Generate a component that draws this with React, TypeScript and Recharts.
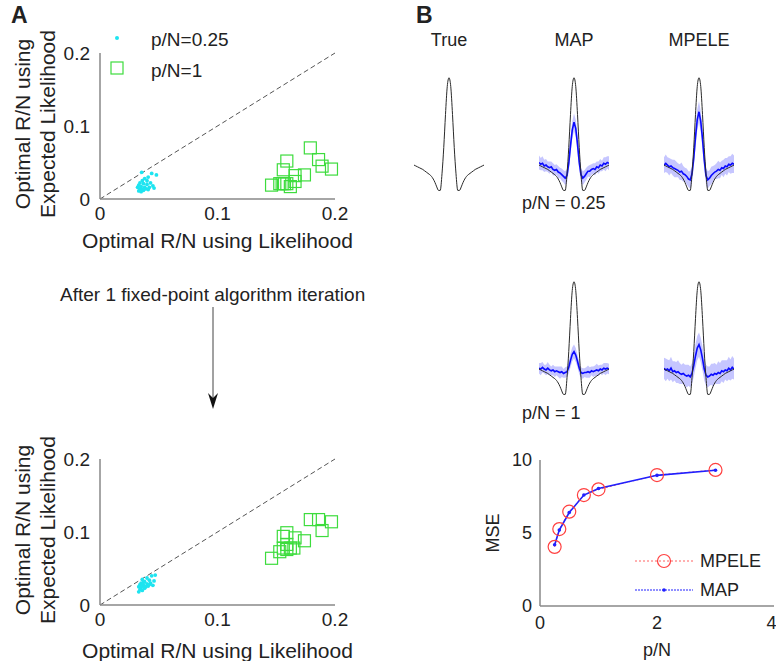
import React from 'react';
import {
  ScatterChart, Scatter, XAxis, YAxis, ReferenceLine, Legend,
  ComposedChart, Area, Line, LineChart,
} from 'recharts';

const FONT = '"Liberation Sans", Arial, Helvetica, sans-serif';

// panel A: optimal R/N, (likelihood, expected likelihood)
const cyanBefore = [
  [0.0355, 0.0366], [0.044, 0.035], [0.048, 0.033], [0.041, 0.030], [0.038, 0.028],
  [0.036, 0.025], [0.034, 0.022], [0.037, 0.021], [0.040, 0.020], [0.033, 0.019],
  [0.035, 0.017], [0.038, 0.016], [0.042, 0.016], [0.045, 0.018], [0.034, 0.014],
  [0.036, 0.013], [0.039, 0.014], [0.033, 0.011], [0.035, 0.010], [0.037, 0.012],
  [0.043, 0.022], [0.040, 0.025], [0.032, 0.016], [0.046, 0.015], [0.041, 0.013],
];
const greenBefore = [
  [0.146, 0.019], [0.153, 0.021], [0.155, 0.021], [0.157, 0.021], [0.159, 0.021],
  [0.162, 0.017], [0.156, 0.040], [0.159, 0.052], [0.166, 0.024], [0.166, 0.032],
  [0.174, 0.033], [0.179, 0.070], [0.186, 0.054], [0.189, 0.045], [0.197, 0.041],
];
const cyanAfter = [
  [0.036, 0.035], [0.040, 0.037], [0.044, 0.040], [0.047, 0.041], [0.042, 0.034],
  [0.038, 0.032], [0.035, 0.030], [0.034, 0.028], [0.037, 0.027], [0.040, 0.029],
  [0.043, 0.030], [0.033, 0.025], [0.035, 0.024], [0.038, 0.023], [0.041, 0.026],
  [0.045, 0.027], [0.034, 0.021], [0.036, 0.020], [0.033, 0.018], [0.039, 0.025],
  [0.046, 0.033], [0.042, 0.028], [0.037, 0.031], [0.035, 0.026],
];
const greenAfter = [
  [0.146, 0.064], [0.153, 0.073], [0.156, 0.078], [0.156, 0.094], [0.159, 0.099],
  [0.159, 0.076], [0.162, 0.078], [0.165, 0.078], [0.166, 0.092], [0.174, 0.088],
  [0.179, 0.117], [0.186, 0.117], [0.189, 0.102], [0.197, 0.114], [0.159, 0.083],
];
const rnTicks = [0, 0.1, 0.2];

// panel B: receptive field estimates
const tAxis = [
  -20, -19, -18, -17, -16, -15, -14, -13, -12, -11, -10, -9, -8, -7, -6, -5, -4, -3, -2, -1,
  0, 1, 2, 3, 4, 5, 6, 7, 8, 9, 10, 11, 12, 13, 14, 15, 16, 17, 18, 19, 20,
];
const trueWave = [
  0, -0.01, -0.02, -0.03, -0.04, -0.05, -0.065, -0.08, -0.095, -0.11, -0.13, -0.16, -0.2, -0.25, -0.29, -0.29, -0.1, 0.2, 0.58, 0.9,
  1.0, 0.9, 0.58, 0.2, -0.1, -0.29, -0.29, -0.25, -0.2, -0.16, -0.13, -0.11, -0.095, -0.08, -0.065, -0.05, -0.04, -0.03, -0.02, -0.01, 0,
];
const mapQuarter = [
  0.03, 0.01, 0.02, -0.01, 0.0, -0.02, -0.03, -0.02, -0.05, -0.06, -0.05, -0.08, -0.09, -0.11, -0.13, -0.15, -0.12, 0.02, 0.22, 0.4,
  0.49, 0.42, 0.24, 0.03, -0.11, -0.15, -0.13, -0.1, -0.07, -0.07, -0.05, -0.04, -0.05, -0.02, -0.03, 0.0, -0.01, 0.02, 0.01, 0.03, 0.02,
];
const mapQuarterSpread = [
  0.08, 0.07, 0.08, 0.07, 0.07, 0.06, 0.07, 0.06, 0.07, 0.06, 0.06, 0.07, 0.06, 0.07, 0.07, 0.08, 0.08, 0.09, 0.1, 0.1,
  0.1, 0.1, 0.1, 0.09, 0.08, 0.08, 0.07, 0.07, 0.06, 0.07, 0.06, 0.06, 0.07, 0.06, 0.07, 0.07, 0.06, 0.07, 0.08, 0.07, 0.08,
];
const mpeleQuarter = [
  0.0, 0.02, 0.0, -0.02, -0.01, -0.03, -0.04, -0.05, -0.06, -0.08, -0.07, -0.1, -0.11, -0.13, -0.16, -0.17, -0.1, 0.08, 0.32, 0.52,
  0.61, 0.5, 0.3, 0.06, -0.12, -0.17, -0.15, -0.12, -0.1, -0.08, -0.07, -0.05, -0.06, -0.03, -0.04, -0.01, -0.02, 0.01, 0.0, 0.02, 0.01,
];
const mpeleQuarterSpread = [
  0.09, 0.1, 0.09, 0.1, 0.08, 0.09, 0.1, 0.09, 0.08, 0.09, 0.1, 0.09, 0.08, 0.09, 0.09, 0.1, 0.1, 0.11, 0.12, 0.12,
  0.12, 0.12, 0.12, 0.11, 0.1, 0.1, 0.09, 0.1, 0.09, 0.08, 0.09, 0.1, 0.09, 0.08, 0.1, 0.09, 0.1, 0.09, 0.1, 0.11, 0.1,
];
const mapOne = [
  0.01, 0.0, 0.02, 0.0, -0.01, 0.01, -0.01, -0.02, -0.01, -0.03, -0.02, -0.03, -0.04, -0.03, -0.05, -0.04, -0.03, 0.02, 0.1, 0.17,
  0.2, 0.16, 0.09, 0.01, -0.04, -0.05, -0.04, -0.04, -0.03, -0.04, -0.02, -0.03, -0.02, -0.01, -0.02, 0.0, -0.01, 0.01, 0.0, 0.01, 0.0,
];
const mapOneSpread = [
  0.06, 0.07, 0.06, 0.05, 0.06, 0.07, 0.06, 0.05, 0.06, 0.06, 0.05, 0.06, 0.07, 0.06, 0.05, 0.06, 0.06, 0.07, 0.08, 0.08,
  0.08, 0.08, 0.07, 0.07, 0.06, 0.06, 0.05, 0.06, 0.07, 0.06, 0.05, 0.06, 0.06, 0.07, 0.06, 0.05, 0.06, 0.06, 0.07, 0.06, 0.06,
];
const mpeleOne = [
  0.01, -0.01, 0.0, -0.02, 0.01, -0.03, -0.02, -0.04, -0.03, -0.05, -0.06, -0.05, -0.07, -0.08, -0.07, -0.09, -0.05, 0.04, 0.15, 0.24,
  0.28, 0.22, 0.12, 0.0, -0.07, -0.09, -0.08, -0.06, -0.07, -0.05, -0.06, -0.04, -0.05, -0.02, -0.03, -0.01, -0.02, 0.01, -0.01, 0.02, 0.0,
];
const mpeleOneSpread = [
  0.12, 0.13, 0.11, 0.12, 0.13, 0.12, 0.11, 0.12, 0.13, 0.12, 0.11, 0.12, 0.12, 0.13, 0.12, 0.12, 0.12, 0.13, 0.14, 0.14,
  0.14, 0.14, 0.14, 0.13, 0.12, 0.12, 0.11, 0.12, 0.13, 0.12, 0.11, 0.13, 0.12, 0.12, 0.13, 0.11, 0.12, 0.13, 0.12, 0.13, 0.12,
];

// MSE vs p/N
const pN = [0.25, 0.33, 0.5, 0.75, 1, 2, 3];
const mseMpele = [4.05, 5.27, 6.46, 7.6, 7.99, 8.97, 9.32];
const mseMap = [4.2, 5.2, 6.4, 7.6, 8.05, 8.95, 9.3];

const toPts = (arr: number[][]) => arr.map(([x, y]) => ({ x, y }));

const waveTable = (est?: number[], spread?: number[]) =>
  tAxis.map((t, i) => ({
    t,
    truth: trueWave[i],
    est: est ? est[i] : undefined,
    band: est && spread ? [est[i] - spread[i], est[i] + spread[i]] : undefined,
  }));

const CyanDot = (p: any) => <circle cx={p.cx} cy={p.cy} r={1.9} fill="#1ee4f0" />;
const GreenSquare = (p: any) => (
  <rect x={p.cx - 6} y={p.cy - 6} width={12} height={12} fill="none" stroke="#3ddc3d" strokeWidth={1.2} />
);

const yLabel = () => {
  const cy = 124;
  return (
    <g fontFamily={FONT} fontSize={21} fill="#222">
      <text x={22} y={cy} transform={`rotate(-90, 22, ${cy})`} textAnchor="middle" dominantBaseline="central">Optimal R/N using</text>
      <text x={47} y={cy} transform={`rotate(-90, 47, ${cy})`} textAnchor="middle" dominantBaseline="central">Expected Likelihood</text>
    </g>
  );
};

const ScatterLegend = () => (
  <svg width={160} height={60} style={{ fontFamily: FONT }}>
    <circle cx={13} cy={13} r={2} fill="#1ee4f0" />
    <text x={47} y={14} fontSize={19} fill="#222" dominantBaseline="central">p/N=0.25</text>
    <rect x={7} y={37} width={12} height={12} fill="none" stroke="#3ddc3d" strokeWidth={1.2} />
    <text x={47} y={45} fontSize={19} fill="#222" dominantBaseline="central">p/N=1</text>
  </svg>
);

function RnScatter({ cyan, green, labelOffset, legend }: any) {
  return (
    <ScatterChart width={360} height={255} margin={{ top: 53, right: 25, bottom: 0, left: 0 }}>
      <XAxis type="number" dataKey="x" domain={[0, 0.2]} ticks={rnTicks} tickFormatter={(v) => String(v)}
        height={56} stroke="#888" strokeWidth={1.5} tickLine={false} tickSize={0} tickMargin={8}
        tick={{ fill: '#222', fontSize: 19, fontFamily: FONT }}
        label={{ value: 'Optimal R/N using Likelihood', position: 'insideBottom', offset: labelOffset, fill: '#222', fontSize: 21, fontFamily: FONT }} />
      <YAxis type="number" dataKey="y" domain={[0, 0.2]} ticks={rnTicks} tickFormatter={(v) => String(v)}
        width={100} stroke="#888" strokeWidth={1.5} tickLine={false} tickSize={0} tickMargin={10}
        tick={{ fill: '#222', fontSize: 19, fontFamily: FONT }} label={yLabel} />
      <ReferenceLine segment={[{ x: 0, y: 0 }, { x: 0.2, y: 0.2 }]} stroke="#555" strokeDasharray="5 3" strokeWidth={1} ifOverflow="visible" />
      <Scatter data={toPts(cyan)} shape={CyanDot} isAnimationActive={false} />
      <Scatter data={toPts(green)} shape={GreenSquare} isAnimationActive={false} />
      {legend && (
        <Legend layout="vertical" align="center" verticalAlign="middle" content={ScatterLegend}
          wrapperStyle={{ left: 104, top: 25, width: 160, height: 60 }} />
      )}
    </ScatterChart>
  );
}

function Wave({ est, spread }: { est?: number[]; spread?: number[] }) {
  return (
    <ComposedChart width={70} height={131} data={waveTable(est, spread)} margin={{ top: 0, right: 0, bottom: 0, left: 0 }}>
      <XAxis type="number" dataKey="t" domain={[-20, 20]} hide />
      <YAxis domain={[-0.4, 1.1]} hide />
      {est && <Area dataKey="band" type="linear" stroke="none" fill="#a8a8ff" fillOpacity={0.65} isAnimationActive={false} />}
      {est && <Line dataKey="est" type="linear" stroke="#0a0aff" strokeWidth={1.6} dot={false} isAnimationActive={false} />}
      <Line dataKey="truth" type="monotone" stroke="#2a2a2a" strokeWidth={1} dot={false} isAnimationActive={false} />
    </ComposedChart>
  );
}

const MseLegend = () => (
  <svg width={150} height={60} style={{ fontFamily: FONT }}>
    <line x1={0} y1={15} x2={58} y2={15} stroke="#ff6060" strokeWidth={1} strokeDasharray="2 2" />
    <circle cx={29} cy={15} r={6.5} fill="none" stroke="#ff4040" strokeWidth={1.2} />
    <text x={65} y={15} fontSize={18} fill="#222" dominantBaseline="central">MPELE</text>
    <line x1={0} y1={44} x2={58} y2={44} stroke="#2020ff" strokeWidth={1.2} strokeDasharray="2 1" />
    <circle cx={29} cy={44} r={1.8} fill="#2020ff" />
    <text x={65} y={44} fontSize={18} fill="#222" dominantBaseline="central">MAP</text>
  </svg>
);

const mseRows = pN.map((x, i) => ({ x, mpele: mseMpele[i], map: mseMap[i] }));

const txt = (left: number, top: number, s: string, extra: any = {}) => (
  <div style={{ position: 'absolute', left, top, fontSize: 18, color: '#222', whiteSpace: 'nowrap', lineHeight: 1, ...extra }}>{s}</div>
);

export default function App() {
  return (
    <div style={{ position: 'absolute', left: 0, top: 0, width: 776, height: 664, overflow: 'hidden', background: '#fff', fontFamily: FONT }}>
      {txt(11, 4, 'A', { fontSize: 23, fontWeight: 'bold' })}
      {txt(416, 4, 'B', { fontSize: 23, fontWeight: 'bold' })}

      <div style={{ position: 'absolute', left: 0, top: 0 }}>
        <RnScatter cyan={cyanBefore} green={greenBefore} labelOffset={7} legend />
      </div>

      {txt(60, 285, 'After 1 fixed-point algorithm iteration', { fontSize: 19 })}
      <svg style={{ position: 'absolute', left: 203, top: 305 }} width={20} height={108}>
        <line x1={10} y1={2} x2={10} y2={100} stroke="#444" strokeWidth={1} />
        <path d="M5,88 L10,104 L15,88 L10,93 Z" fill="#111" />
      </svg>

      <div style={{ position: 'absolute', left: 0, top: 406 }}>
        <RnScatter cyan={cyanAfter} green={greenAfter} labelOffset={3} />
      </div>

      {txt(449, 31, 'True', { transform: 'translateX(-50%)' })}
      {txt(574, 31, 'MAP', { transform: 'translateX(-50%)' })}
      {txt(699, 31, 'MPELE', { transform: 'translateX(-50%)' })}

      <div style={{ position: 'absolute', left: 414, top: 69 }}><Wave /></div>
      <div style={{ position: 'absolute', left: 539, top: 69 }}><Wave est={mapQuarter} spread={mapQuarterSpread} /></div>
      <div style={{ position: 'absolute', left: 664, top: 69 }}><Wave est={mpeleQuarter} spread={mpeleQuarterSpread} /></div>
      {txt(522, 194, 'p/N = 0.25')}

      <div style={{ position: 'absolute', left: 539, top: 273 }}><Wave est={mapOne} spread={mapOneSpread} /></div>
      <div style={{ position: 'absolute', left: 664, top: 273 }}><Wave est={mpeleOne} spread={mpeleOneSpread} /></div>
      {txt(522, 404, 'p/N = 1')}

      <div style={{ position: 'absolute', left: 440, top: 440 }}>
        <LineChart width={336} height={224} data={mseRows} margin={{ top: 20, right: 2, bottom: 0, left: 0 }}>
          <XAxis type="number" dataKey="x" domain={[0, 4]} ticks={[0, 2, 4]} height={58}
            stroke="#888" strokeWidth={1.5} tickLine={false} tickSize={0} tickMargin={10}
            tick={{ fill: '#222', fontSize: 18, fontFamily: FONT }}
            label={{ value: 'p/N', position: 'insideBottom', offset: 8, fill: '#222', fontSize: 18, fontFamily: FONT }} />
          <YAxis type="number" domain={[0, 10]} ticks={[0, 5, 10]} width={100}
            stroke="#888" strokeWidth={1.5} tickLine={false} tickSize={0} tickMargin={8}
            tick={{ fill: '#222', fontSize: 18, fontFamily: FONT }}
            label={{ value: 'MSE', angle: -90, position: 'insideLeft', offset: 53, fill: '#222', fontSize: 18, fontFamily: FONT, style: { textAnchor: 'middle' } }} />
          <Line dataKey="mpele" type="linear" stroke="#ff6060" strokeWidth={1} strokeDasharray="2 2"
            dot={{ r: 6.5, fill: 'none', stroke: '#ff4040', strokeWidth: 1.2, strokeDasharray: '' }} isAnimationActive={false} />
          <Line dataKey="map" type="linear" stroke="#2020ff" strokeWidth={1.6}
            dot={{ r: 1.8, fill: '#2020ff', stroke: 'none' }} isAnimationActive={false} />
          <Legend layout="vertical" align="center" verticalAlign="middle" content={MseLegend}
            wrapperStyle={{ left: 195, top: 106, width: 150, height: 60 }} />
        </LineChart>
      </div>
    </div>
  );
}
